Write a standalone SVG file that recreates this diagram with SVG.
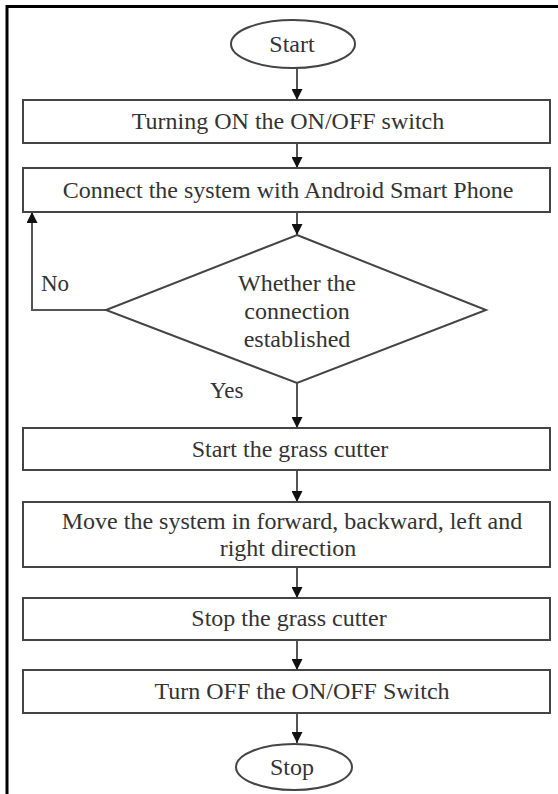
<svg xmlns="http://www.w3.org/2000/svg" width="558" height="794" viewBox="0 0 558 794">
<defs>
<marker id="ah" viewBox="0 0 10 10" refX="10" refY="5" markerWidth="11" markerHeight="11" markerUnits="userSpaceOnUse" orient="auto">
<path d="M0,0 L10,5 L0,10 z" fill="#111"/>
</marker>
</defs>
<style>
.frame{fill:none;stroke:#000;stroke-width:3}
.box{fill:#fff;stroke:#444;stroke-width:2}
.conn{fill:none;stroke:#555;stroke-width:2;marker-end:url(#ah)}
text{font-family:'Liberation Serif','Times New Roman',Times,serif;fill:#333}
.t{font-size:24px;text-anchor:middle}
.lbl{font-size:23px}
</style>
<rect width="558" height="794" fill="#fff"/>
<path class="frame" d="M7,794 L7,6.5 L558,6.5"/>
<g id="connectors">
<path class="conn" d="M297,68 L297,100"/>
<path class="conn" d="M297,143 L297,168"/>
<path class="conn" d="M297,212 L297,235"/>
<path class="conn" d="M106,310 L32,310 L32,212"/>
<path class="conn" d="M297,383 L297,428"/>
<path class="conn" d="M297,470 L297,502"/>
<path class="conn" d="M297,567 L297,598"/>
<path class="conn" d="M297,640 L297,670"/>
<path class="conn" d="M297,713 L297,743"/>
<text class="lbl" x="41" y="291">No</text>
<text class="lbl" x="210" y="398">Yes</text>
</g>
<g id="start">
<ellipse cx="293" cy="44" rx="62" ry="24" fill="#fff" stroke="#444" stroke-width="2"/>
<text class="t" x="292" y="52">Start</text>
</g>
<g id="turn-on">
<rect class="box" x="23" y="100" width="527" height="43"/>
<text class="t" x="288" y="129">Turning ON the ON/OFF switch</text>
</g>
<g id="connect">
<rect class="box" x="23" y="168" width="527" height="44"/>
<text class="t" x="288" y="198">Connect the system with Android Smart Phone</text>
</g>
<g id="decision">
<polygon points="297,235 486,310 297,383 106,310" fill="#fff" stroke="#444" stroke-width="2"/>
<text class="t" x="297" y="291">Whether the</text>
<text class="t" x="297" y="319">connection</text>
<text class="t" x="297" y="347">established</text>
</g>
<g id="start-cutter">
<rect class="box" x="23" y="428" width="527" height="42"/>
<text class="t" x="290" y="457">Start the grass cutter</text>
</g>
<g id="move">
<rect class="box" x="23" y="502" width="527" height="65"/>
<text class="t" x="292" y="529">Move the system in forward, backward, left and</text>
<text class="t" x="288" y="556">right direction</text>
</g>
<g id="stop-cutter">
<rect class="box" x="23" y="598" width="527" height="42"/>
<text class="t" x="289" y="626">Stop the grass cutter</text>
</g>
<g id="turn-off">
<rect class="box" x="23" y="670" width="527" height="43"/>
<text class="t" x="302" y="699">Turn OFF the ON/OFF Switch</text>
</g>
<g id="stop">
<ellipse cx="294" cy="767" rx="58" ry="23" fill="#fff" stroke="#444" stroke-width="2"/>
<text class="t" x="292" y="775">Stop</text>
</g>
</svg>
